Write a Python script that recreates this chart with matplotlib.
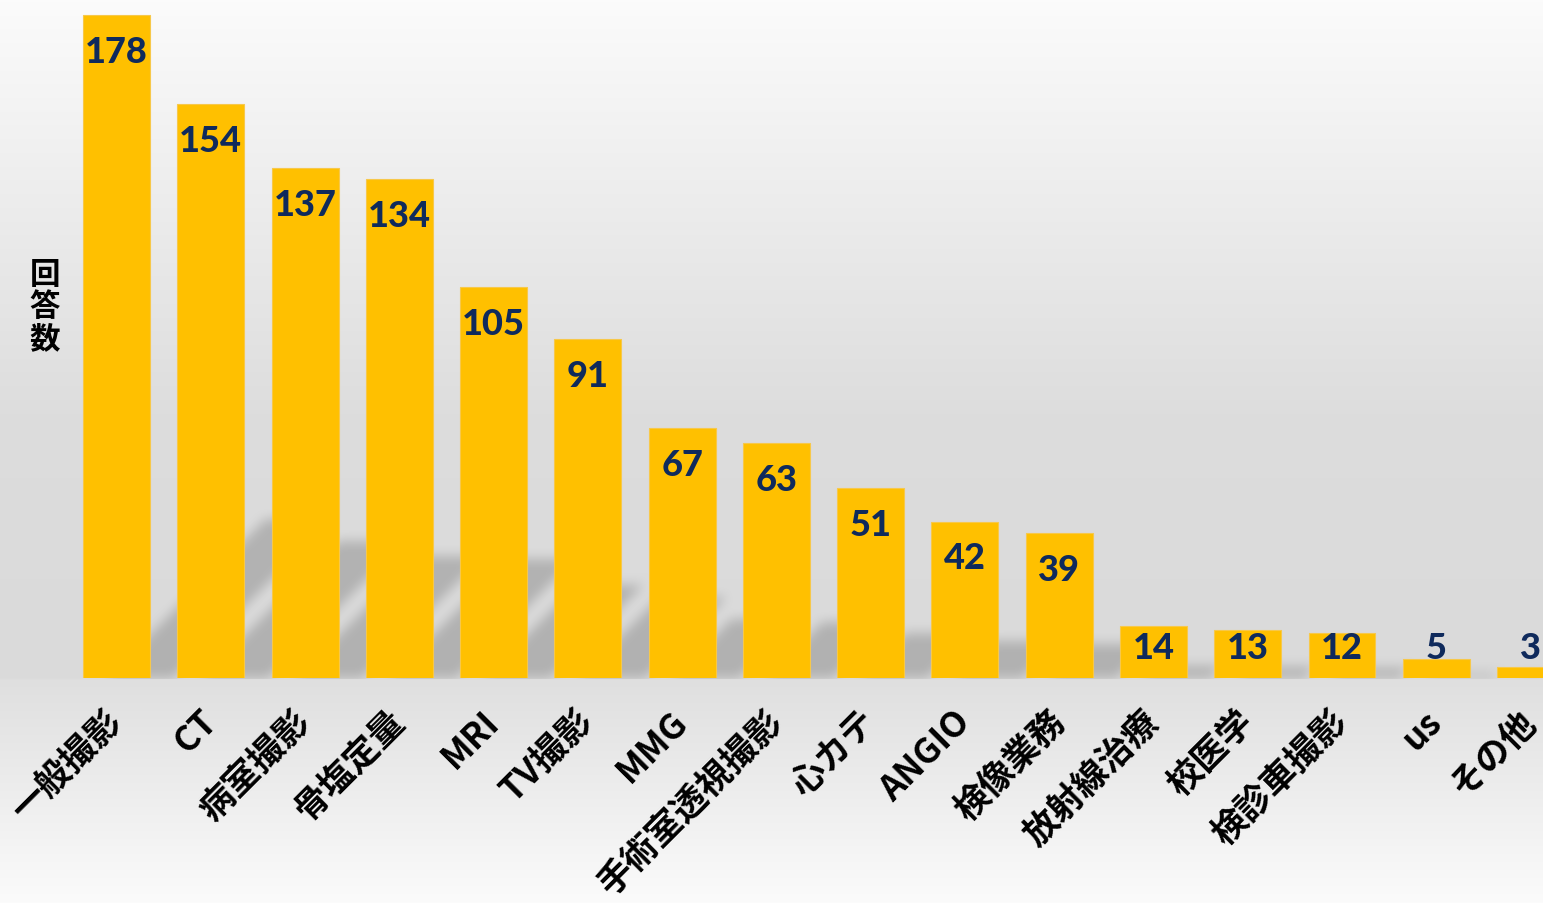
import numpy as np
import matplotlib
matplotlib.use('Agg')
import matplotlib.pyplot as plt
from matplotlib.transforms import ScaledTranslation

# ---------------- data ----------------
categories = ['一般撮影', 'CT', '病室撮影', '骨塩定量', 'MRI', 'TV撮影', 'MMG',
              '手術室透視撮影', '心カテ', 'ANGIO', '検像業務', '放射線治療',
              '校医学', '検診車撮影', 'us', 'その他']
values = [178, 154, 137, 134, 105, 91, 67, 63, 51, 42, 39, 14, 13, 12, 5, 3]
y_label = '回答数'

# ---------------- figure ----------------
W, H = 1543, 904
DPI = 100
fig = plt.figure(figsize=(W / DPI, H / DPI), dpi=DPI)

base_px = 679
ax = fig.add_axes([0, (H - base_px) / H, 1, base_px / H])
ax.set_facecolor('none')
first_c, step = 116.5, 94.27
ax.set_xlim((0 - first_c) / step, (W - first_c) / step)
ax.set_ylim(0, base_px / 3.7247)
for sp in ax.spines.values():
    sp.set_visible(False)
ax.set_yticks([])

bar_w = 0.71
n = len(values)
x = np.arange(n)

# ---------------- background gradient + soft perspective shadows ----------------
fig.canvas.draw()
shadow = np.zeros((H, W))
s = 0.24
for i, v in enumerate(values):
    xl, yb = ax.transData.transform((i - bar_w / 2, 0))
    xr, yt = ax.transData.transform((i + bar_w / 2, v))
    hpx = (yt - yb) * s
    off = (xr - xl) * 0.37
    brow = int(round(H - yb))
    for d in range(int(hpx)):
        row = brow - 1 - d
        x0 = int(xl + off + d)
        x1 = int(xr + off + d)
        if row >= 0:
            shadow[row, max(x0, 0):min(x1, W)] = 1.0


def blur(a, r):
    k = np.ones(2 * r + 1) / (2 * r + 1)
    a = np.apply_along_axis(lambda m: np.convolve(m, k, mode='same'), 0, a)
    a = np.apply_along_axis(lambda m: np.convolve(m, k, mode='same'), 1, a)
    return a


shadow = blur(blur(shadow, 7), 5)
shadow[base_px + 1:, :] = 0

yy = np.arange(H)
g = np.interp(yy, [0, 420, 678, 681, 904], [0.985, 0.865, 0.855, 0.875, 0.985])
bgimg = np.repeat(g[:, None], W, axis=1) - 0.16 * shadow
bgimg = np.clip(bgimg, 0, 1)

bg = fig.add_axes([0, 0, 1, 1], zorder=-10)
bg.imshow(np.dstack([bgimg] * 3), aspect='auto', interpolation='nearest')
bg.axis('off')

# ---------------- bars ----------------
ax.bar(x, values, width=bar_w, color='#FFC000', edgecolor='#F7C84A',
       linewidth=0.8, zorder=3)

for i, v in enumerate(values):
    ax.text(i, max(v - 12.6, 5.4), str(v), ha='center', va='baseline',
            fontsize=26, fontweight=900, color='#0F2A5C', family='Lato',
            zorder=4)

ax.set_xticks(x)
ax.set_xticklabels(categories, rotation=45, ha='right', fontsize=25.2,
                   fontweight='bold', family=['Noto Sans CJK JP', 'DejaVu Sans'],
                   color='black')
ax.tick_params(axis='x', length=0, pad=18)
shift = ScaledTranslation(9 / 72, 0, fig.dpi_scale_trans)
for lab in ax.get_xticklabels():
    lab.set_transform(lab.get_transform() + shift)

fig.text(45 / W, 1 - 307 / H, '回\n答\n数', ha='center', va='center',
         fontsize=22, fontweight='bold', linespacing=1.0,
         family=['Noto Sans CJK JP', 'DejaVu Sans'], color='black')

fig.savefig('out.png', dpi=DPI)
